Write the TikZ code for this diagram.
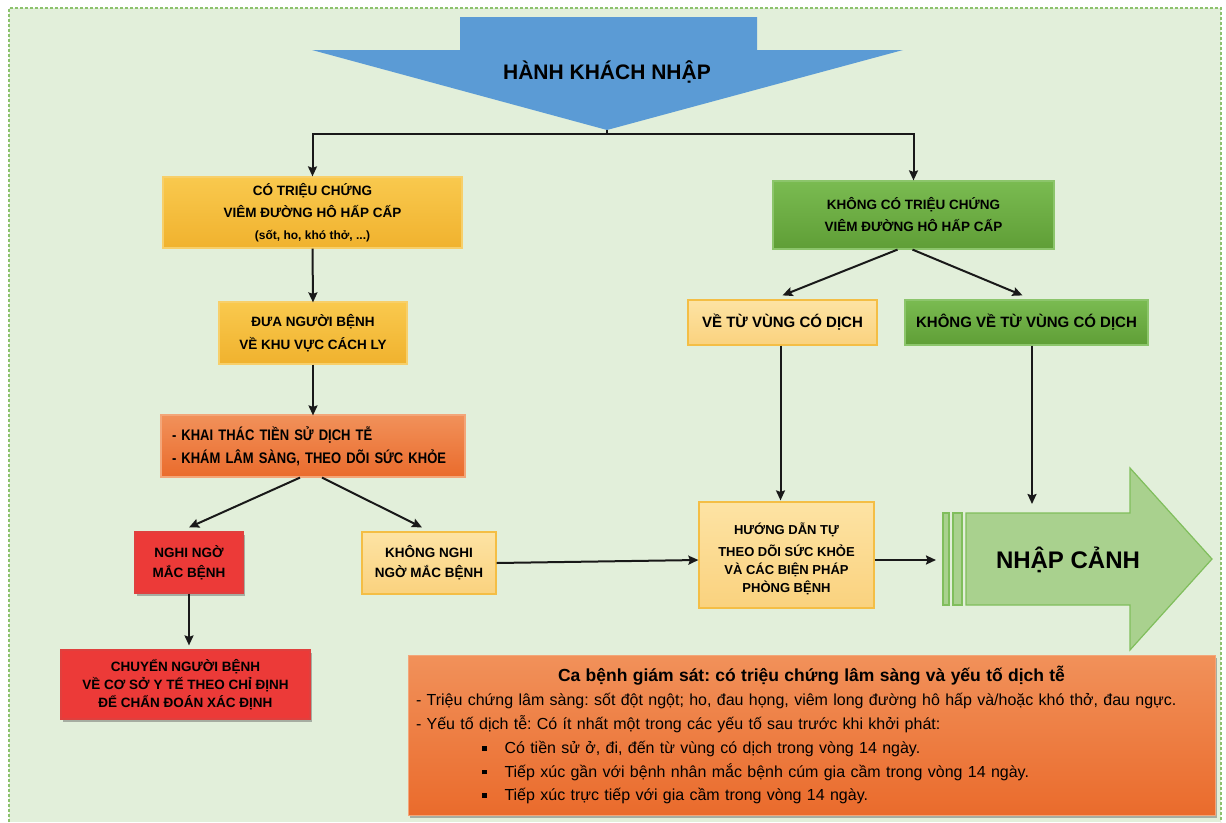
\documentclass[tikz,border=0pt]{standalone}
\usepackage{fontspec}
\setmainfont{Liberation Sans}
\newfontfamily\narrowsans{Liberation Sans}[FakeStretch=0.85]
\usetikzlibrary{arrows.meta,shadows}
\frenchspacing

\definecolor{bgGreen}{HTML}{E2EFDA}
\definecolor{frameGreen}{HTML}{8CC26C}
\definecolor{arrowBlue}{HTML}{5B9BD5}
\definecolor{goldTop}{HTML}{F9C94E}
\definecolor{goldBot}{HTML}{F0B22E}
\definecolor{goldLine}{HTML}{F7CF6A}
\definecolor{paleTop}{HTML}{FDE3A4}
\definecolor{paleBot}{HTML}{FAD27E}
\definecolor{paleLine}{HTML}{F4BE45}
\definecolor{orTop}{HTML}{F1915A}
\definecolor{orBot}{HTML}{EA6B2C}
\definecolor{orLine}{HTML}{F3A679}
\definecolor{redFill}{HTML}{EC3A38}
\definecolor{redLine}{HTML}{E0403E}
\definecolor{grTop}{HTML}{7ABB51}
\definecolor{grBot}{HTML}{5F9E36}
\definecolor{grLine}{HTML}{8CC56B}
\definecolor{entryFill}{HTML}{A9D18E}
\definecolor{entryLine}{HTML}{80BE5C}

\tikzset{
  box/.style={draw, line width=1.2pt, align=center, inner sep=2pt,
    font=\bfseries\fontsize{13.5}{22}\selectfont},
  goldbox/.style={box, draw=goldLine, top color=goldTop, bottom color=goldBot},
  palebox/.style={box, draw=paleLine, top color=paleTop, bottom color=paleBot},
  orangebox/.style={box, draw=orLine, top color=orTop, bottom color=orBot},
  redbox/.style={box, draw=redLine, fill=redFill,
    drop shadow={shadow xshift=1.5pt, shadow yshift=-2.5pt, opacity=.4, fill=black!70}},
  greenbox/.style={box, draw=grLine, top color=grTop, bottom color=grBot},
  flow/.style={-{Stealth[length=10pt,width=9pt,inset=1.5pt]}, line width=2pt, black!90},
  wire/.style={line width=2pt, black!90},
}

\begin{document}
\begin{tikzpicture}[x=1pt,y=-1pt]
\useasboundingbox (0,0) rectangle (1226,822);

% background panel with dashed frame
\fill[bgGreen] (9,8) rectangle (1221,822);
\draw[frameGreen, line width=1.3pt, dash pattern=on 3pt off 2pt]
  (9,822) -- (9,8) -- (1221,8) -- (1221,822);

% incoming passengers arrow
\fill[arrowBlue] (460,17) -- (757,17) -- (757,50) -- (903,50) -- (607,130)
  -- (312,50) -- (460,50) -- cycle;
\node[font=\bfseries\fontsize{21}{24}\selectfont] (hk) at (607,72) {HÀNH KHÁCH NHẬP};
\coordinate (tip) at (607,130);
\coordinate (split) at (607,134);

% left branch: symptomatic
\node[goldbox, minimum width=299pt, minimum height=71pt] (cy) at (312.5,212.5)
  {CÓ TRIỆU CHỨNG\\VIÊM ĐƯỜNG HÔ HẤP CẤP\\{\fontsize{12}{14}\selectfont (sốt, ho, khó thở, ...)}};
\node[goldbox, minimum width=188pt, minimum height=62pt,
  font=\bfseries\fontsize{13.5}{23}\selectfont] (dn) at (313,333)
  {ĐƯA NGƯỜI BỆNH\\VỀ KHU VỰC CÁCH LY};
\node[orangebox, minimum width=304pt, minimum height=62pt, text width=282pt,
  inner xsep=11pt, align=left, font=\narrowsans\bfseries\fontsize{15.3}{23}\selectfont] (kt) at (313,446)
  {- KHAI THÁC TIỀN SỬ DỊCH TỄ\\- KHÁM LÂM SÀNG, THEO DÕI SỨC KHỎE};
\node[redbox, minimum width=108pt, minimum height=61pt,
  font=\bfseries\fontsize{13.5}{20}\selectfont] (nn) at (189,562.5)
  {NGHI NGỜ\\MẮC BỆNH};
\node[palebox, minimum width=134pt, minimum height=62pt,
  font=\bfseries\fontsize{13.5}{20}\selectfont] (kn) at (429,563)
  {KHÔNG NGHI\\NGỜ MẮC BỆNH};
\node[redbox, minimum width=249pt, minimum height=69pt,
  font=\bfseries\fontsize{13.5}{18}\selectfont] (cb) at (185.5,684.5)
  {CHUYỂN NGƯỜI BỆNH\\VỀ CƠ SỞ Y TẾ THEO CHỈ ĐỊNH\\ĐỂ CHẨN ĐOÁN XÁC ĐỊNH};

% right branch: no symptoms
\node[greenbox, minimum width=281pt, minimum height=68pt] (kc) at (913.5,215)
  {KHÔNG CÓ TRIỆU CHỨNG\\VIÊM ĐƯỜNG HÔ HẤP CẤP};
\node[palebox, minimum width=189pt, minimum height=45pt,
  font=\bfseries\fontsize{15}{18}\selectfont] (vt) at (782.5,322.5)
  {VỀ TỪ VÙNG CÓ DỊCH};
\node[greenbox, minimum width=243pt, minimum height=45pt,
  font=\bfseries\fontsize{15}{18}\selectfont] (kv) at (1026.5,322.5)
  {KHÔNG VỀ TỪ VÙNG CÓ DỊCH};
\node[palebox, minimum width=175pt, minimum height=106pt,
  font=\bfseries\fontsize{13}{18}\selectfont] (hd) at (786.5,555)
  {\rule{0pt}{20pt}HƯỚNG DẪN TỰ\\[4pt]THEO DÕI SỨC KHỎE\\VÀ CÁC BIỆN PHÁP\\PHÒNG BỆNH};

% entry arrow
\fill[entryFill, draw=entryLine, line width=1.2pt] (943,513) rectangle (949,605);
\fill[entryFill, draw=entryLine, line width=1.2pt] (953,513) rectangle (962,605);
\filldraw[fill=entryFill, draw=entryLine, line width=1.2pt]
  (966,513) -- (1130,513) -- (1130,468) -- (1212,559) -- (1130,650)
  -- (1130,605) -- (966,605) -- cycle;
\node[font=\bfseries\fontsize{24}{28}\selectfont] (nc) at (1068,560) {NHẬP CẢNH};
\coordinate (ncin) at (1032,504);
\coordinate (ncleft) at (936,560);

% surveillance case definition
\node[draw=orLine, line width=1pt, top color=orTop, bottom color=orBot,
  drop shadow={shadow xshift=1.5pt, shadow yshift=-2.5pt, opacity=.4, fill=black!70},
  minimum width=807pt, minimum height=160pt, text width=791pt, inner xsep=8pt,
  align=left, font=\fontsize{16}{23.5}\selectfont] (ca) at (811.5,735)
  {\makebox[791pt][c]{\bfseries\fontsize{17.5}{20}\selectfont Ca bệnh giám sát: có triệu chứng lâm sàng và yếu tố dịch tễ}\\[1pt]
   - Triệu chứng lâm sàng: sốt đột ngột; ho, đau họng, viêm long đường hô hấp và/hoặc khó thở, đau ngực.\\[0pt]
   - Yếu tố dịch tễ: Có ít nhất một trong các yếu tố sau trước khi khởi phát:\\[1pt]
   \hspace*{66pt}\raisebox{3pt}{\rule{4.5pt}{4.5pt}}\hspace{18pt}Có tiền sử ở, đi, đến từ vùng có dịch trong vòng 14 ngày.\\
   \hspace*{66pt}\raisebox{3pt}{\rule{4.5pt}{4.5pt}}\hspace{18pt}Tiếp xúc gần với bệnh nhân mắc bệnh cúm gia cầm trong vòng 14 ngày.\\
   \hspace*{66pt}\raisebox{3pt}{\rule{4.5pt}{4.5pt}}\hspace{18pt}Tiếp xúc trực tiếp với gia cầm trong vòng 14 ngày.};

% connectors
\draw[wire] (tip) -- (split);
\draw[flow] (split) -| (cy.north);
\draw[flow] (split) -| (kc.north);
\draw[flow] (cy.south) -- ([yshift=-1pt]dn.north);
\draw[flow] (dn.south) -- ([yshift=-1pt]kt.north);
\draw[flow] ([xshift=-13pt]kt.south) -- ([yshift=4pt]nn.north);
\draw[flow] ([xshift=9pt]kt.south) -- ([xshift=-7pt,yshift=4pt]kn.north);
\draw[flow] (nn.south) -- ([yshift=4pt]nn.south |- cb.north);
\draw[flow] (kn.east) -- ([yshift=-5pt]hd.west);
\draw[flow] ([xshift=-16pt]kc.south) -- ([yshift=4pt]vt.north);
\draw[flow] ([xshift=-1pt]kc.south) -- ([xshift=-4pt,yshift=4pt]kv.north);
\draw[flow] ([xshift=-2pt]vt.south) -- ([xshift=-2pt,yshift=1pt]vt.south |- hd.north);
\draw[flow] (kv.south -| ncin) -- (ncin);
\draw[flow] ([yshift=-5pt]hd.east) -- (ncleft);
\end{tikzpicture}
\end{document}
